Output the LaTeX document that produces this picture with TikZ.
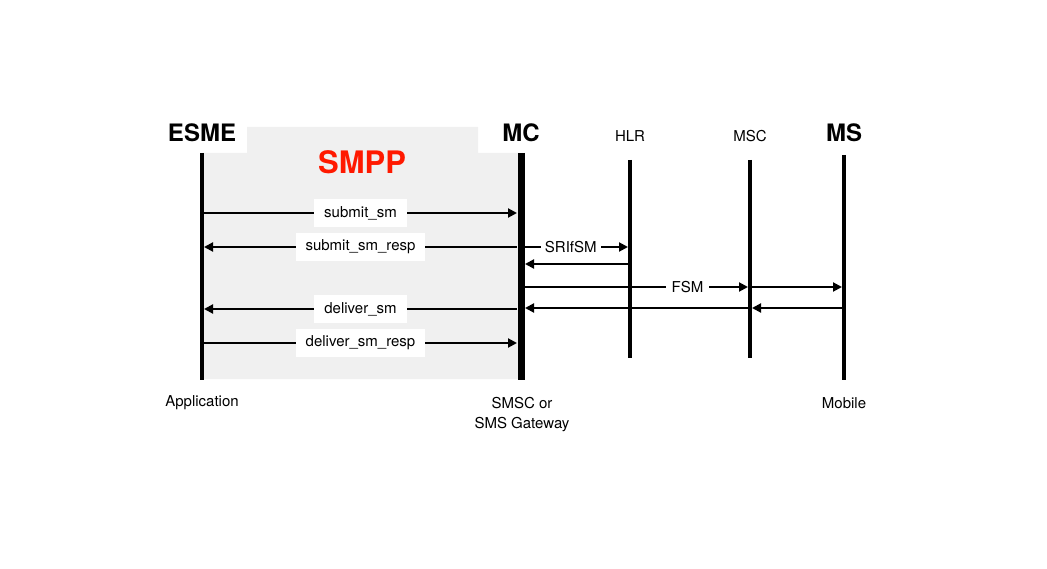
\documentclass[tikz,border=0pt]{standalone}
\usepackage{fontspec}
\setmainfont{TeX Gyre Heros}
\usetikzlibrary{arrows.meta}
\begin{document}
\begin{tikzpicture}[x=1pt,y=-1pt,
  msg/.style={line width=2pt,-{Triangle[length=9pt,width=9pt]}},
  lbl/.style={fill=white,font=\fontsize{15}{17}\selectfont,inner xsep=10pt,inner ysep=7pt},
  big/.style={font=\fontsize{24}{26}\selectfont\bfseries},
  small/.style={font=\fontsize{15}{17}\selectfont}]
\useasboundingbox (0,0) rectangle (1047,569);
\fill[gray!12] (202,153) -- (247,153) -- (247,127) -- (478,127) -- (478,153) -- (520,153) -- (520,379) -- (202,379) -- cycle;
\node[font=\fontsize{31}{33}\selectfont\bfseries,text=red!80!orange] (smpp) at (362,162) {SMPP};
% entities
\node[big] (esme) at (202,133) {ESME};
\node[big] (mc) at (521,133) {MC};
\node[small] (hlr) at (630,136) {HLR};
\node[small] (msc) at (750,136) {MSC};
\node[big] (ms) at (844,133) {MS};
\coordinate (e1) at (202,153); \coordinate (e2) at (202,380);
\coordinate (m1) at (521,153); \coordinate (m2) at (521,380);
\coordinate (h1) at (630,160); \coordinate (h2) at (630,358);
\coordinate (s1) at (750,160); \coordinate (s2) at (750,358);
\coordinate (p1) at (844,155); \coordinate (p2) at (844,380);
\draw[line width=3.5pt] (e1) -- (e2);
\draw[line width=7pt] (m1) -- (m2);
\draw[line width=3.5pt] (h1) -- (h2);
\draw[line width=3.5pt] (s1) -- (s2);
\draw[line width=3.5pt] (p1) -- (p2);
\node[small] (app) at (202,403) {Application};
\node[small,align=center] (smsc) at (522,415) {SMSC or\\[3pt]SMS Gateway};
\node[small] (mob) at (844,403) {Mobile};
% messages
\coordinate (a1) at (204,213); \coordinate (b1) at (517,213);
\draw[msg] (a1) -- node[lbl]{submit\_sm} (b1);
\coordinate (a2) at (517,247); \coordinate (b2) at (204,247);
\draw[msg] (a2) -- node[lbl]{submit\_sm\_resp} (b2);
\coordinate (a3) at (524,247); \coordinate (b3) at (628,247);
\draw[msg] (a3) -- node[lbl,inner xsep=4pt,inner ysep=2pt,pos=0.45]{SRIfSM} (b3);
\coordinate (a4) at (628,264); \coordinate (b4) at (525,264);
\draw[msg] (a4) -- (b4);
\coordinate (a5) at (524,287); \coordinate (b5) at (748,287);
\draw[msg] (a5) -- node[lbl,inner xsep=6pt,inner ysep=2pt,pos=0.73]{FSM} (b5);
\coordinate (a6) at (752,287); \coordinate (b6) at (842,287);
\draw[msg] (a6) -- (b6);
\coordinate (a7) at (842,308); \coordinate (b7) at (752,308);
\draw[msg] (a7) -- (b7);
\coordinate (a8) at (748,308); \coordinate (b8) at (525,308);
\draw[msg] (a8) -- (b8);
\coordinate (a9) at (517,309); \coordinate (b9) at (204,309);
\draw[msg] (a9) -- node[lbl]{deliver\_sm} (b9);
\coordinate (a10) at (204,343); \coordinate (b10) at (517,343);
\draw[msg] (a10) -- node[lbl]{deliver\_sm\_resp} (b10);
\end{tikzpicture}
\end{document}
